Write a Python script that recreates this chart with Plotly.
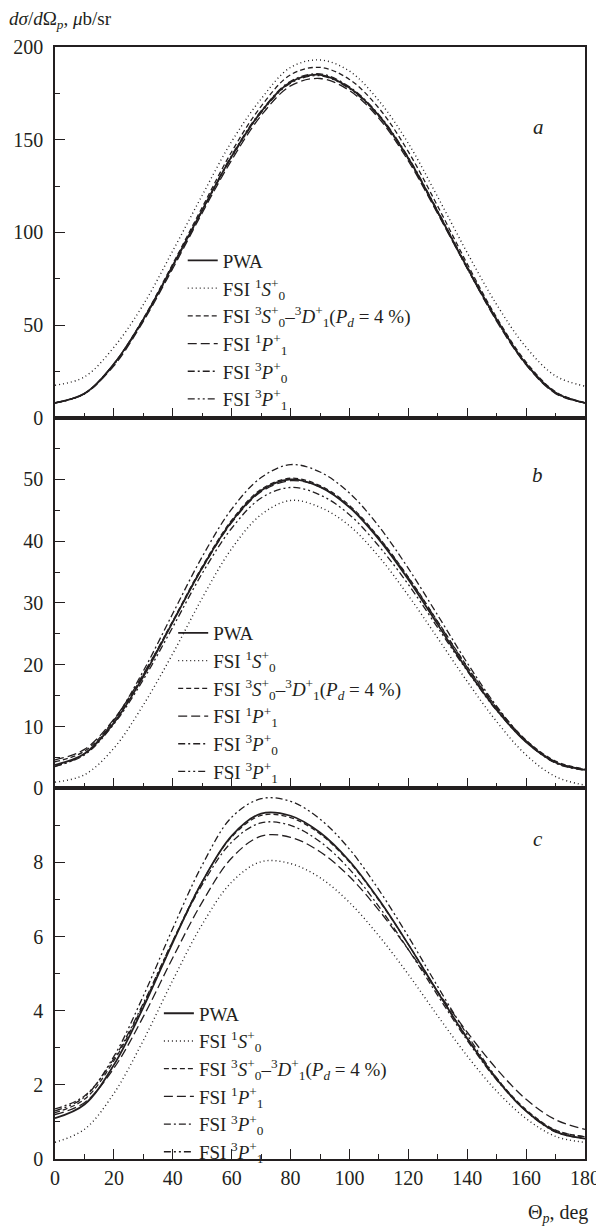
import plotly.graph_objects as go
from plotly.subplots import make_subplots

theta = [0, 10, 20, 30, 40, 50, 60, 70, 80, 90, 100, 110, 120, 130, 140, 150, 160, 170, 180]

# Panel a
a_pwa   = [8.0, 13.0, 29.0, 53.0, 82.0, 112.0, 141.0, 165.0, 181.0, 185.0, 178.0, 163.0, 140.0, 111.0, 81.0, 53.0, 29.0, 13.5, 8.0]
a_s0    = [17.5, 22.0, 38.0, 61.0, 90.0, 120.0, 149.0, 172.0, 189.0, 193.0, 187.0, 171.0, 148.0, 119.0, 89.0, 61.0, 38.0, 22.5, 17.0]
a_s0d1  = [8.0, 13.0, 29.0, 53.5, 83.0, 113.5, 143.5, 168.0, 185.0, 189.0, 182.5, 167.0, 143.5, 114.0, 83.0, 54.0, 30.0, 14.0, 8.0]
a_p1    = [8.0, 13.0, 28.0, 52.0, 80.5, 110.5, 139.0, 163.0, 179.0, 183.0, 176.5, 161.5, 138.5, 110.0, 80.5, 52.0, 28.5, 13.0, 8.0]
a_p0    = [8.0, 13.0, 29.0, 53.0, 82.0, 112.0, 141.5, 165.5, 181.5, 185.5, 178.5, 163.5, 140.5, 111.5, 81.5, 53.0, 29.0, 13.5, 8.0]
a_3p1   = [8.0, 12.8, 28.6, 52.6, 81.5, 111.5, 140.5, 164.5, 180.5, 184.5, 177.5, 162.5, 139.5, 110.5, 80.5, 52.5, 28.7, 13.3, 8.0]

# Panel b
b_pwa   = [3.8, 5.6, 10.6, 18.1, 26.9, 35.7, 43.2, 48.2, 50.0, 48.8, 45.5, 40.3, 33.8, 26.5, 19.2, 12.7, 7.5, 4.2, 3.0]
b_s0    = [1.0, 2.2, 6.5, 13.5, 21.8, 30.8, 38.8, 44.3, 46.6, 45.5, 42.5, 37.5, 31.2, 24.3, 17.3, 10.8, 5.4, 1.9, 0.5]
b_s0d1  = [4.3, 6.0, 11.0, 18.4, 27.1, 35.9, 43.4, 48.4, 50.2, 49.0, 45.8, 40.6, 34.2, 27.0, 19.7, 13.1, 7.8, 4.4, 3.1]
b_p1    = [4.6, 6.3, 11.2, 18.5, 27.0, 35.6, 43.0, 48.0, 49.8, 48.8, 45.6, 40.5, 34.1, 26.9, 19.6, 13.0, 7.7, 4.3, 3.0]
b_p0    = [3.5, 5.6, 11.0, 19.0, 28.3, 37.5, 45.2, 50.3, 52.4, 51.2, 47.8, 42.4, 35.6, 28.0, 20.3, 13.3, 7.7, 4.1, 2.9]
b_3p1   = [3.6, 5.4, 10.4, 17.6, 26.1, 34.8, 42.1, 47.0, 48.7, 47.5, 44.3, 39.2, 33.0, 26.0, 19.0, 12.6, 7.5, 4.1, 3.0]

# Panel c
c_pwa   = [1.10, 1.47, 2.54, 4.09, 5.84, 7.48, 8.72, 9.32, 9.26, 8.81, 8.04, 7.00, 5.79, 4.50, 3.25, 2.15, 1.29, 0.74, 0.55]
c_s0    = [0.45, 0.80, 1.77, 3.20, 4.82, 6.33, 7.47, 8.02, 7.97, 7.59, 6.92, 6.02, 4.98, 3.86, 2.78, 1.83, 1.09, 0.61, 0.45]
c_s0d1  = [1.25, 1.61, 2.65, 4.16, 5.88, 7.48, 8.69, 9.27, 9.21, 8.77, 8.01, 6.98, 5.79, 4.51, 3.27, 2.18, 1.33, 0.78, 0.60]
c_p1    = [1.20, 1.52, 2.45, 3.84, 5.43, 6.93, 8.12, 8.71, 8.68, 8.29, 7.62, 6.71, 5.65, 4.51, 3.42, 2.43, 1.61, 1.06, 0.80]
c_p0    = [1.35, 1.70, 2.71, 4.20, 5.88, 7.40, 8.55, 9.07, 9.00, 8.56, 7.82, 6.81, 5.65, 4.41, 3.20, 2.13, 1.30, 0.77, 0.60]
c_3p1   = [1.30, 1.67, 2.77, 4.40, 6.22, 7.93, 9.22, 9.72, 9.65, 9.17, 8.36, 7.26, 6.00, 4.65, 3.35, 2.19, 1.29, 0.73, 0.55]

names = [
    "PWA",
    "FSI <sup>1</sup><i>S</i><sup>+</sup><sub>0</sub>",
    "FSI <sup>3</sup><i>S</i><sup>+</sup><sub>0</sub>\u2013<sup>3</sup><i>D</i><sup>+</sup><sub>1</sub>(<i>P</i><sub><i>d</i></sub> = 4 %)",
    "FSI <sup>1</sup><i>P</i><sup>+</sup><sub>1</sub>",
    "FSI <sup>3</sup><i>P</i><sup>+</sup><sub>0</sub>",
    "FSI <sup>3</sup><i>P</i><sup>+</sup><sub>1</sub>",
]
dashes = ["solid", "1px,3px", "5px,3px", "9px,4px", "7px,3px,2px,3px", "7px,3px,2px,3px,2px,3px"]
widths = [1.8, 1.4, 1.3, 1.3, 1.3, 1.3]

panels = [
    (1, [a_pwa, a_s0, a_s0d1, a_p1, a_p0, a_3p1], "legend"),
    (2, [b_pwa, b_s0, b_s0d1, b_p1, b_p0, b_3p1], "legend2"),
    (3, [c_pwa, c_s0, c_s0d1, c_p1, c_p0, c_3p1], "legend3"),
]

FONT = "Liberation Serif, Times New Roman, DejaVu Serif, serif"
INK = "#231f20"

fig = make_subplots(rows=3, cols=1, vertical_spacing=0)

for row, series, leg in panels:
    for k, ys in enumerate(series):
        fig.add_trace(go.Scatter(
            x=theta, y=ys, mode="lines", name=names[k],
            line=dict(color=INK, width=widths[k], dash=dashes[k], shape="spline", smoothing=1.0),
            legend=leg, showlegend=True,
        ), row=row, col=1)

axis_common = dict(showline=True, linecolor=INK, mirror=True, ticks="inside", tickcolor=INK,
                   ticklen=10, tickwidth=1.3, showgrid=False, zeroline=False, automargin=False,
                   tickfont=dict(family=FONT, size=20, color=INK))

for r in (1, 2, 3):
    fig.update_xaxes(range=[0, 180], tickvals=[0, 20, 40, 60, 80, 100, 120, 140, 160, 180],
                     minor=dict(ticks="inside", tickvals=[10, 30, 50, 70, 90, 110, 130, 150, 170], ticklen=5, tickcolor=INK, tickwidth=1.3),
                     showticklabels=(r == 3), linewidth=2.2, **axis_common, row=r, col=1)

fig.update_yaxes(range=[0, 200], tickvals=[0, 50, 100, 150, 200],
                 minor=dict(ticks="inside", tickvals=[25, 75, 125, 175], ticklen=5, tickcolor=INK, tickwidth=1.3),
                 linewidth=1.6, ticklabelstandoff=6, **axis_common, row=1, col=1)
fig.update_yaxes(range=[0, 60], tickvals=[0, 10, 20, 30, 40, 50],
                 minor=dict(ticks="inside", tickvals=[5, 15, 25, 35, 45, 55], ticklen=5, tickcolor=INK, tickwidth=1.3),
                 linewidth=1.6, ticklabelstandoff=6, **axis_common, row=2, col=1)
fig.update_yaxes(range=[0, 10], tickvals=[0, 2, 4, 6, 8],
                 minor=dict(ticks="inside", tickvals=[1, 3, 5, 7, 9], ticklen=5, tickcolor=INK, tickwidth=1.3),
                 linewidth=1.6, ticklabelstandoff=6, **axis_common, row=3, col=1)

leg_common = dict(font=dict(family=FONT, size=19, color=INK), bgcolor="rgba(0,0,0,0)",
                  xanchor="left", yanchor="top", itemwidth=30, tracegroupgap=0)

# the page adds an 8px body margin, so the figure is 8px smaller and margins shifted
fig.update_layout(
    width=596, height=1222,
    margin=dict(l=47, r=19, t=39, b=71),
    paper_bgcolor="white", plot_bgcolor="white",
    font=dict(family=FONT, size=19, color=INK),
    legend=dict(x=0.241, y=0.825, **leg_common),
    legend2=dict(x=0.223, y=0.49, **leg_common),
    legend3=dict(x=0.196, y=0.148, **leg_common),
    annotations=[
        dict(text="<i>d</i><i>σ</i>/<i>d</i>Ω<sub><i>p</i></sub>, <i>μ</i>b/sr", xref="paper", yref="paper",
             x=-0.09, y=1.0245, xanchor="left", yanchor="middle", showarrow=False,
             font=dict(family=FONT, size=19, color=INK)),
        dict(text="Θ<sub><i>p</i></sub>, deg", xref="paper", yref="paper",
             x=1.01, y=-0.0486, xanchor="right", yanchor="middle", showarrow=False,
             font=dict(family=FONT, size=20, color=INK)),
        dict(text="<i>a</i>", xref="paper", yref="paper", x=0.927, y=0.9406,
             showarrow=False, font=dict(family=FONT, size=21, color=INK)),
        dict(text="<i>b</i>", xref="paper", yref="paper", x=0.925, y=0.615,
             showarrow=False, font=dict(family=FONT, size=21, color=INK)),
        dict(text="<i>c</i>", xref="paper", yref="paper", x=0.925, y=0.275,
             showarrow=False, font=dict(family=FONT, size=21, color=INK)),
    ],
)

fig.write_html("out.html")
